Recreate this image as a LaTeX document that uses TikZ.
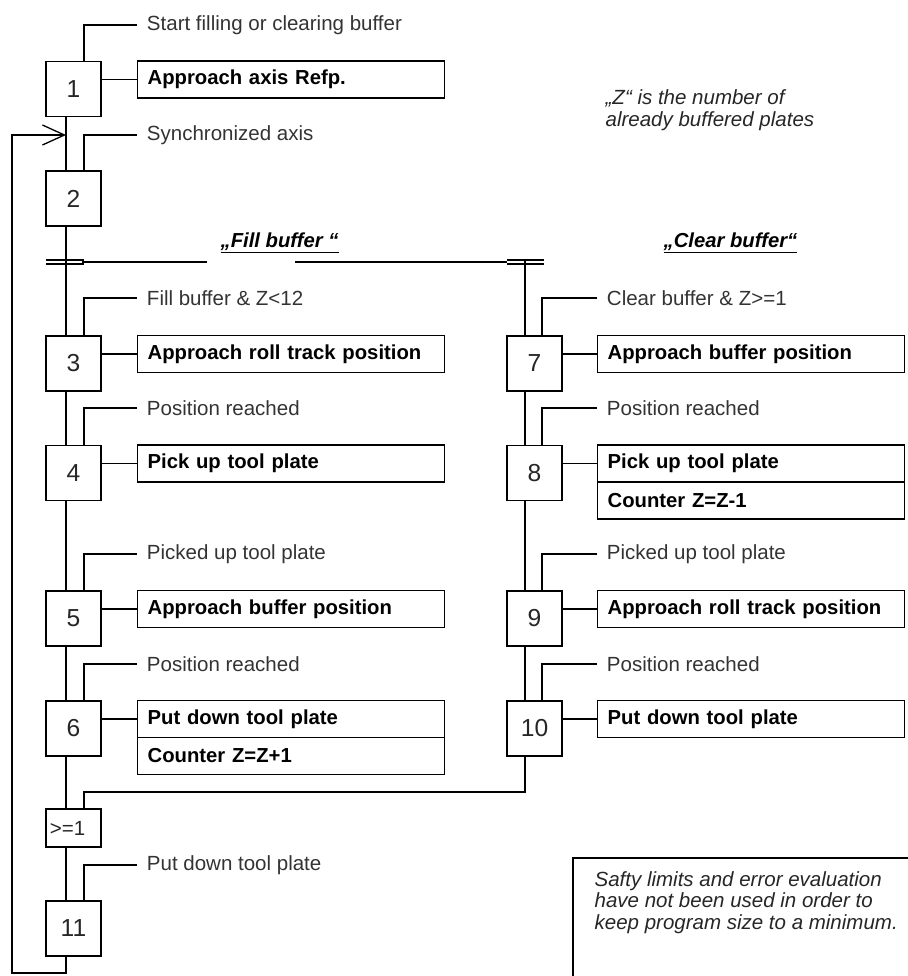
\documentclass[tikz,border=0pt]{standalone}
\usepackage{fontspec}
\setmainfont{Liberation Sans}
\usetikzlibrary{arrows.meta,positioning,calc}

\tikzset{
  stepbox/.style={draw, minimum width=1.65cm, minimum height=1.65cm, inner sep=0pt, text=black!85, font=\fontsize{21}{24}\selectfont},
  orbox/.style={draw, text width=1.41cm, inner xsep=0.12cm, inner ysep=0pt, minimum height=1.14cm, align=left, text=black!85, font=\fontsize{17.5}{18}\selectfont},
  actbox/.style={draw, outer sep=0pt, text width=8.6cm, inner xsep=0.3cm, inner ysep=0pt, minimum height=1.11cm, align=left, font=\bfseries\fontsize{17.3}{18}\selectfont},
  translabel/.style={anchor=west, inner xsep=0.28cm, inner ysep=0pt, text=black!80, font=\fontsize{17.5}{18}\selectfont},
  branchlabel/.style={anchor=west, inner sep=0pt, font=\bfseries\itshape\fontsize{17.3}{18}\selectfont},
  remark/.style={anchor=west, inner sep=0pt, align=left, text=black!85, font=\itshape\fontsize{17.5}{18.5}\selectfont},
}

\begin{document}
\begin{tikzpicture}[x=0.03cm,y=-0.03cm,line width=1.1pt]
\useasboundingbox (0,0) rectangle (908,976);
\coordinate (railL) at (66,0);
\coordinate (tickL) at (84,0);
\coordinate (railR) at (525,0);
\coordinate (tickR) at (542,0);

% steps
\node[stepbox] (s1) at (73.5,89) {1};
\node[stepbox] (s2) at (73.5,198.5) {2};
\node[stepbox] (s3) at (73.5,363.5) {3};
\node[stepbox] (s4) at (73.5,473) {4};
\node[stepbox] (s5) at (73.5,618.5) {5};
\node[stepbox] (s6) at (73.5,728.5) {6};
\node[stepbox] (s7) at (534.5,363.5) {7};
\node[stepbox] (s8) at (534.5,473) {8};
\node[stepbox] (s9) at (534.5,618.5) {9};
\node[stepbox] (s10) at (534.5,728.5) {10};
\node[orbox] (or1) at (73.5,828) {>=1};
\node[stepbox] (s11) at (73.5,928.5) {11};

% actions
\node[actbox, right=1.08cm of s1.north east, anchor=north west] (a1) {Approach axis Refp.};
\node[actbox, right=1.08cm of s3.north east, anchor=north west] (a3) {Approach roll track position};
\node[actbox, right=1.08cm of s4.north east, anchor=north west] (a4) {Pick up tool plate};
\node[actbox, right=1.08cm of s5.north east, anchor=north west] (a5) {Approach buffer position};
\node[actbox, right=1.08cm of s6.north east, anchor=north west] (a6) {Put down tool plate};
\node[actbox, below=0pt of a6] (a6b) {Counter Z=Z+1};
\node[actbox, right=1.05cm of s7.north east, anchor=north west] (a7) {Approach buffer position};
\node[actbox, right=1.05cm of s8.north east, anchor=north west] (a8) {Pick up tool plate};
\node[actbox, below=0pt of a8] (a8b) {Counter Z=Z-1};
\node[actbox, right=1.05cm of s9.north east, anchor=north west] (a9) {Approach roll track position};
\node[actbox, right=1.05cm of s10.north east, anchor=north west] (a10) {Put down tool plate};
\draw (s1.east |- a1.west) -- (a1.west);
\draw (s3.east |- a3.west) -- (a3.west);
\draw (s4.east |- a4.west) -- (a4.west);
\draw (s5.east |- a5.west) -- (a5.west);
\draw (s6.east |- a6.west) -- (a6.west);
\draw (s7.east |- a7.west) -- (a7.west);
\draw (s8.east |- a8.west) -- (a8.west);
\draw (s9.east |- a9.west) -- (a9.west);
\draw (s10.east |- a10.west) -- (a10.west);

% transitions
\node[translabel] (t0) at (137,25) {Start filling or clearing buffer};
\node[translabel] (t1) at (137,135) {Synchronized axis};
\node[translabel] (t3) at (137,298) {Fill buffer \& Z<12};
\node[translabel] (t4) at (137,408) {Position reached};
\node[translabel] (t5) at (137,554) {Picked up tool plate};
\node[translabel] (t6) at (137,664) {Position reached};
\node[translabel] (t7) at (597,298) {Clear buffer \& Z>=1};
\node[translabel] (t8) at (597,408) {Position reached};
\node[translabel] (t9) at (597,554) {Picked up tool plate};
\node[translabel] (t10) at (597,664) {Position reached};
\node[translabel] (t11) at (137,865) {Put down tool plate};
\draw (s1.north -| tickL) |- (t0.west);
\draw (s2.north -| tickL) |- (t1.west);
\draw (s3.north -| tickL) |- (t3.west);
\draw (s4.north -| tickL) |- (t4.west);
\draw (s5.north -| tickL) |- (t5.west);
\draw (s6.north -| tickL) |- (t6.west);
\draw (s7.north -| tickR) |- (t7.west);
\draw (s8.north -| tickR) |- (t8.west);
\draw (s9.north -| tickR) |- (t9.west);
\draw (s10.north -| tickR) |- (t10.west);
\draw (s11.north -| tickL) |- (t11.west);

% rails
\draw (s1.south -| railL) -- (s2.north -| railL);
\draw (s2.south -| railL) -- (s3.north -| railL);
\draw (s3.south -| railL) -- (s4.north -| railL);
\draw (s4.south -| railL) -- (s5.north -| railL);
\draw (s5.south -| railL) -- (s6.north -| railL);
\draw (s6.south -| railL) -- (or1.north -| railL);
\draw (or1.south -| railL) -- (s11.north -| railL);
\coordinate (divR) at (525,260);
\draw (divR) -- (s7.north -| divR);
\draw (s7.south -| railR) -- (s8.north -| railR);
\draw (s8.south -| railR) -- (s9.north -| railR);
\draw (s9.south -| railR) -- (s10.north -| railR);
\coordinate (join) at (84,792);
\draw (s10.south -| railR) |- (join) -- (or1.north -| join);
\coordinate (ret) at (12,973);
\draw[-{Straight Barb[length=0.66cm,width=0.6cm]}] (s11.south -| railL) |- (ret) |- (railL |- t1.west);

% branch
\draw (46,260) -- (83,260) -- (83,264) -- (46,264);
\draw (83,262) -- (207,262);
\draw (295,262) -- (507,262);
\draw (507,260) -- (544,260) (507,264) -- (544,264);
\node[branchlabel] (fill) at (220,243) {\underline{„Fill buffer “}};
\node[branchlabel] (clear) at (663,243) {\underline{„Clear buffer“}};

% remarks
\node[remark] (zinfo) at (605,110) {„Z“ is the number of\\already buffered plates};
\node[remark] (note) at (594,902.5) {Safty limits and error evaluation\\have not been used in order to\\keep program size to a minimum.};
\draw (573,990) |- (915,858);
\end{tikzpicture}
\end{document}
